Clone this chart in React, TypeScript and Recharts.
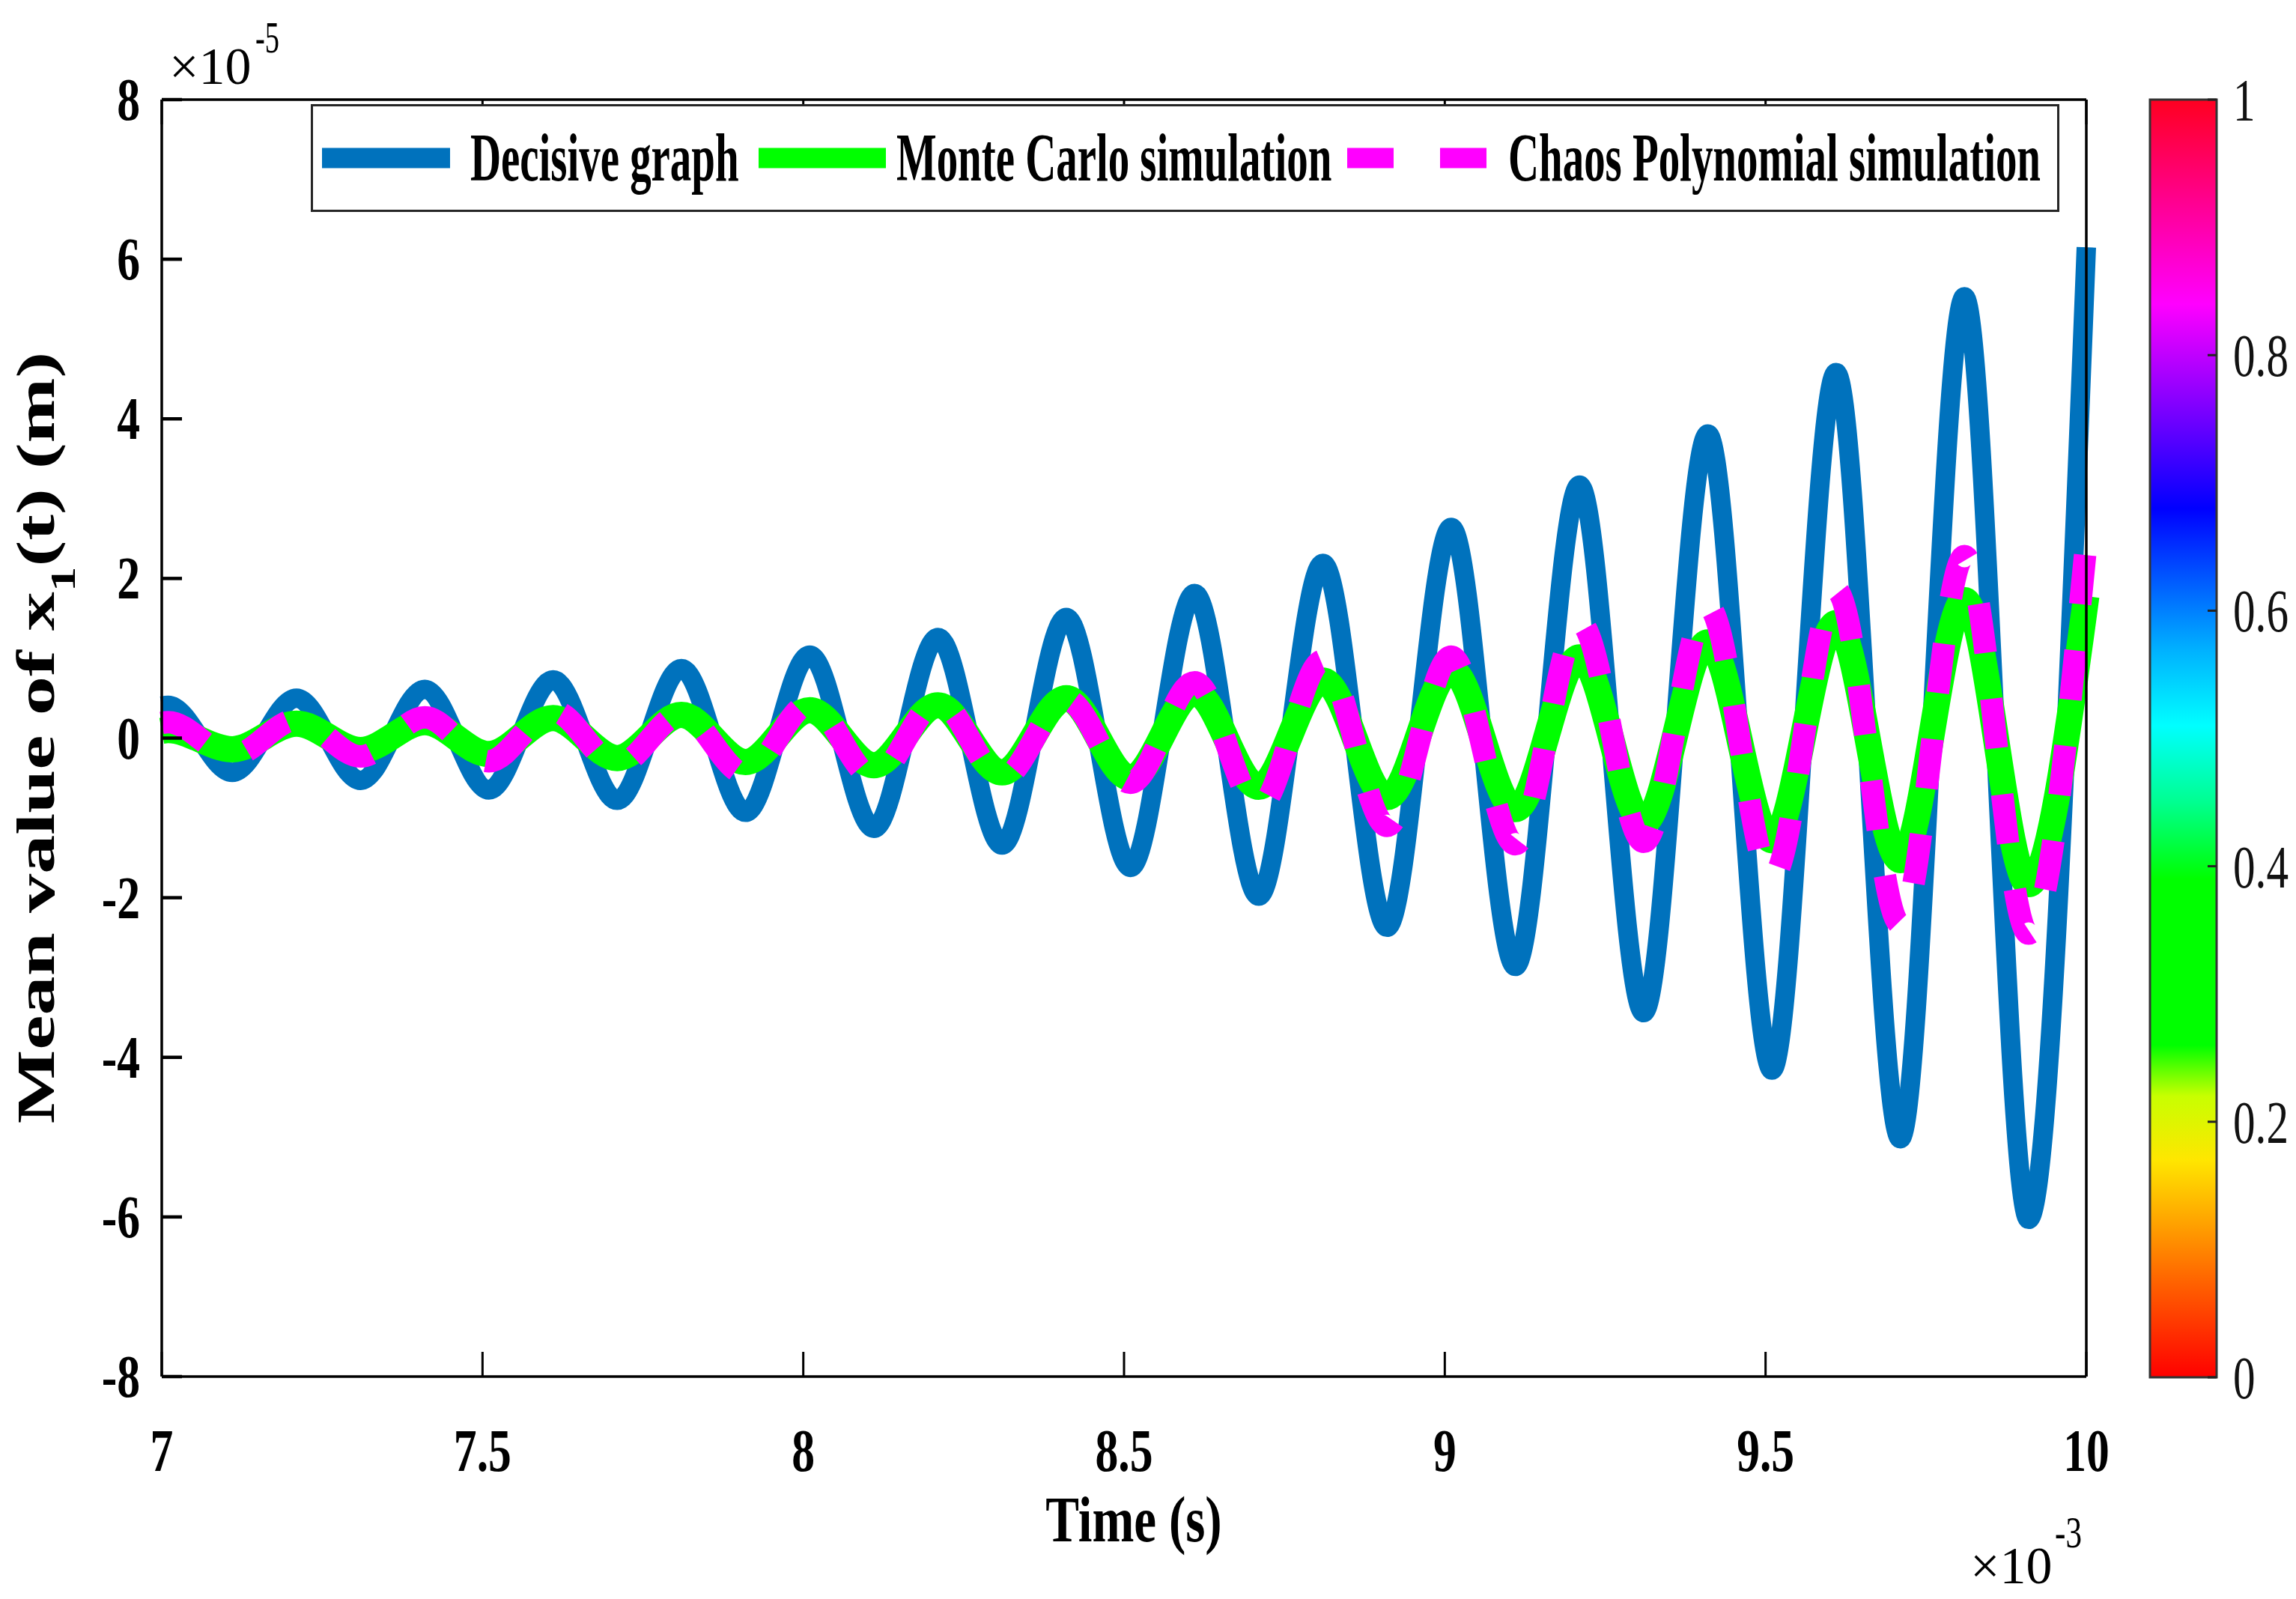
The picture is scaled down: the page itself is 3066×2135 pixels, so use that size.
import React from "react";
import { LineChart, Line, XAxis, YAxis, Legend, BarChart, Bar } from "recharts";

const W = 3066;
const H = 2135;
const PLOT = { left: 216, right: 2786, top: 133, bottom: 1838 };
const FONT = "'Liberation Serif', 'Times New Roman', serif";

// time in units of 1e-3 s, taken at the crests and troughs
const timeMs = [
  7.0, 7.01, 7.11, 7.21, 7.31, 7.41, 7.51, 7.61, 7.71, 7.81, 7.91, 8.01, 8.11,
  8.21, 8.31, 8.41, 8.51, 8.61, 8.71, 8.81, 8.91, 9.01, 9.11, 9.21, 9.31, 9.41,
  9.51, 9.61, 9.71, 9.81, 9.91, 10.0,
];

// mean value of x1(t), units of 1e-5 m
const decisive = [
  0.4, 0.41, -0.43, 0.5, -0.53, 0.61, -0.65, 0.73, -0.78, 0.87, -0.93, 1.04,
  -1.13, 1.26, -1.34, 1.51, -1.62, 1.81, -1.98, 2.19, -2.37, 2.64, -2.86, 3.17,
  -3.44, 3.81, -4.16, 4.58, -5.02, 5.53, -6.03, 6.15,
];
const monteCarlo = [
  0.09, 0.1, -0.14, 0.18, -0.15, 0.2, -0.2, 0.25, -0.25, 0.29, -0.3, 0.35,
  -0.34, 0.41, -0.43, 0.5, -0.5, 0.57, -0.61, 0.72, -0.74, 0.85, -0.89, 1.01,
  -1.06, 1.2, -1.28, 1.44, -1.53, 1.73, -1.83, 1.78,
];
const chaosPoly = [
  0.19, 0.2, -0.22, 0.23, -0.23, 0.26, -0.29, 0.34, -0.34, 0.3, -0.45, 0.43,
  -0.49, 0.46, -0.5, 0.48, -0.56, 0.7, -0.86, 0.97, -1.1, 1.02, -1.33, 1.45,
  -1.3, 1.65, -1.75, 1.85, -2.33, 2.28, -2.45, 2.45,
];

const xTicks = [7, 7.5, 8, 8.5, 9, 9.5, 10];
const yTicks = [-8, -6, -4, -2, 0, 2, 4, 6, 8];
const cbarTicks = [0, 0.2, 0.4, 0.6, 0.8, 1];
const cbarTickLabels = ["0", "0.2", "0.4", "0.6", "0.8", "1"];
const seriesNames = [
  "Decisive graph",
  "Monte Carlo simulation",
  "Chaos Polynomial simulation",
];

const chartData = timeMs.map((t, i) => ({
  t,
  decisive: decisive[i],
  monteCarlo: monteCarlo[i],
  chaos: chaosPoly[i],
}));

const SERIES_STYLE = [
  { key: "decisive", color: "#0072BD", width: 26, dash: undefined },
  { key: "monteCarlo", color: "#00FF00", width: 35, dash: undefined },
  { key: "chaos", color: "#FF00FF", width: 30, dash: "66 62" },
];

// hsv-like colormap of the colorbar (offset 0 = bottom)
const CMAP_STOPS: [number, string][] = [
  [0, "#FF0000"],
  [0.08, "#FF6A00"],
  [0.17, "#FFE600"],
  [0.22, "#C8FF00"],
  [0.26, "#00FF00"],
  [0.39, "#00FF00"],
  [0.45, "#00FF90"],
  [0.51, "#00FFFF"],
  [0.57, "#00B0FF"],
  [0.63, "#0050FF"],
  [0.68, "#0000FF"],
  [0.75, "#7000FF"],
  [0.84, "#FF00FF"],
  [0.92, "#FF0090"],
  [1, "#FF0020"],
];

const LEGEND_BOX = { left: 415, top: 139, width: 2335, height: 144 };
const legendSlots = [
  { x1: 15, x2: 186, textX: 213 },
  { x1: 598, x2: 768, textX: 782 },
  { x1: 1384, x2: 1570, textX: 1599 },
];

const tickText = {
  fontFamily: FONT,
  fontWeight: "bold" as const,
  fontSize: 80,
  fill: "#000",
};

const BottomTick = (props: any) => {
  const { x, payload } = props;
  return (
    <g>
      <line x1={x} x2={x} y1={PLOT.bottom} y2={PLOT.bottom - 33} stroke="#000" strokeWidth={3} />
      <text transform={`translate(${x},1964) scale(0.77,1)`} textAnchor="middle" {...tickText}>
        {String(payload.value)}
      </text>
    </g>
  );
};

const TopTick = (props: any) => {
  const { x } = props;
  return <line x1={x} x2={x} y1={PLOT.top} y2={PLOT.top + 33} stroke="#000" strokeWidth={3} />;
};

const LeftTick = (props: any) => {
  const { y, payload } = props;
  return (
    <g>
      <line x1={PLOT.left} x2={PLOT.left + 27} y1={y} y2={y} stroke="#000" strokeWidth={4.5} />
      <text transform={`translate(187,${y + 27}) scale(0.77,1)`} textAnchor="end" {...tickText}>
        {String(payload.value)}
      </text>
    </g>
  );
};

const RightTick = (props: any) => {
  const { y } = props;
  return <line x1={PLOT.right} x2={PLOT.right - 27} y1={y} y2={y} stroke="#000" strokeWidth={4.5} />;
};

const CbarTick = (props: any) => {
  const { y, payload } = props;
  const idx = cbarTicks.indexOf(payload.value);
  return (
    <g>
      <line x1={160} x2={148} y1={y} y2={y} stroke="#222" strokeWidth={3} />
      <text
        transform={`translate(182,${y + 28}) scale(0.74,1)`}
        textAnchor="start"
        fontFamily={FONT}
        fontSize={80}
        fill="#111"
      >
        {cbarTickLabels[idx]}
      </text>
    </g>
  );
};

const renderLegend = (props: any) => {
  const payload: any[] = (props && props.payload) || [];
  return (
    <svg width={LEGEND_BOX.width} height={LEGEND_BOX.height} style={{ display: "block" }}>
      <rect
        x={1.5}
        y={1.5}
        width={LEGEND_BOX.width - 3}
        height={LEGEND_BOX.height - 3}
        fill="#fff"
        stroke="#262626"
        strokeWidth={3}
      />
      {seriesNames.map((name, i) => {
        const slot = legendSlots[i];
        const st = SERIES_STYLE[i];
        const entry = payload.find((p) => p.value === name);
        const color = entry ? entry.color : st.color;
        return (
          <g key={name}>
            <line
              x1={slot.x1}
              x2={slot.x2}
              y1={72}
              y2={72}
              stroke={color}
              strokeWidth={27}
              strokeDasharray={st.dash ? "62 62" : undefined}
            />
            <text
              transform={`translate(${slot.textX},102) scale(0.625,1)`}
              fontFamily={FONT}
              fontWeight="bold"
              fontSize={91}
              fill="#000"
            >
              {name}
            </text>
          </g>
        );
      })}
    </svg>
  );
};

export default function App() {
  return (
    <div style={{ position: "absolute", left: 0, top: 0, width: W, height: H, background: "#fff" }}>
      <div style={{ position: "absolute", left: 0, top: 0 }}>
        <LineChart
          width={W}
          height={H}
          data={chartData}
          margin={{
            top: PLOT.top - 1,
            right: W - PLOT.right - 1,
            bottom: H - PLOT.bottom - 1,
            left: PLOT.left - 1,
          }}
        >
          <XAxis
            type="number"
            dataKey="t"
            domain={[7, 10]}
            ticks={xTicks}
            height={1}
            axisLine={{ stroke: "#000", strokeWidth: 3.5 }}
            tickLine={false}
            tick={BottomTick}
            interval={0}
          />
          <XAxis
            xAxisId="top"
            orientation="top"
            type="number"
            dataKey="t"
            domain={[7, 10]}
            ticks={xTicks}
            height={1}
            axisLine={{ stroke: "#000", strokeWidth: 3.5 }}
            tickLine={false}
            tick={TopTick}
            interval={0}
          />
          <YAxis
            type="number"
            domain={[-8, 8]}
            ticks={yTicks}
            width={1}
            axisLine={{ stroke: "#000", strokeWidth: 3.5 }}
            tickLine={false}
            tick={LeftTick}
            interval={0}
          />
          <YAxis
            yAxisId="right"
            orientation="right"
            type="number"
            domain={[-8, 8]}
            ticks={yTicks}
            width={1}
            axisLine={{ stroke: "#000", strokeWidth: 3.5 }}
            tickLine={false}
            tick={RightTick}
            interval={0}
          />
          {SERIES_STYLE.map((s, i) => (
            <Line
              key={s.key}
              type="monotone"
              dataKey={s.key}
              name={seriesNames[i]}
              stroke={s.color}
              strokeWidth={s.width}
              strokeDasharray={s.dash}
              strokeLinejoin="round"
              strokeLinecap="butt"
              dot={false}
              activeDot={false}
              isAnimationActive={false}
            />
          ))}
          <Legend
            layout="horizontal"
            verticalAlign="middle"
            align="center"
            content={renderLegend}
            wrapperStyle={{
              position: "absolute",
              left: LEGEND_BOX.left,
              top: LEGEND_BOX.top,
              width: LEGEND_BOX.width,
              height: LEGEND_BOX.height,
            }}
          />
        </LineChart>
      </div>

      <div style={{ position: "absolute", left: 2800, top: 0 }}>
        <BarChart
          width={266}
          height={H}
          data={[{ name: "cmap", level: 1 }]}
          margin={{ top: PLOT.top, bottom: H - 1839, left: 71, right: 105 }}
          barCategoryGap={0}
        >
          <defs>
            <linearGradient id="cmapGrad" x1="0" y1="1" x2="0" y2="0">
              {CMAP_STOPS.map(([o, c]) => (
                <stop key={o} offset={o} stopColor={c} />
              ))}
            </linearGradient>
          </defs>
          <XAxis dataKey="name" hide />
          <YAxis
            orientation="right"
            type="number"
            domain={[0, 1]}
            ticks={cbarTicks}
            width={1}
            axisLine={false}
            tickLine={false}
            tick={CbarTick}
            interval={0}
          />
          <Bar dataKey="level" fill="url(#cmapGrad)" stroke="#333" strokeWidth={3} isAnimationActive={false} />
        </BarChart>
      </div>

      <svg
        width={W}
        height={H}
        style={{ position: "absolute", left: 0, top: 0, pointerEvents: "none" }}
      >
        <text
          transform="translate(72,985) rotate(-90) scale(1.45,1)"
          textAnchor="middle"
          fontFamily={FONT}
          fontWeight="bold"
          fontSize={72}
          fill="#000"
        >
          Mean value of x
          <tspan fontSize={46} dy={28}>1</tspan>
          <tspan dy={-28}>(t) (m)</tspan>
        </text>
        <text
          transform="translate(1514,2058) scale(0.78,1)"
          textAnchor="middle"
          fontFamily={FONT}
          fontWeight="bold"
          fontSize={86}
          fill="#000"
        >
          Time (s)
        </text>
        <text x={226} y={112} fontFamily={FONT} fontSize={70} fill="#000">
          ×10
        </text>
        <text transform="translate(341,70) scale(0.64,1)" fontFamily={FONT} fontSize={60} fill="#000">
          -5
        </text>
        <text x={2631} y={2114} fontFamily={FONT} fontSize={70} fill="#000">
          ×10
        </text>
        <text transform="translate(2744,2066) scale(0.72,1)" fontFamily={FONT} fontSize={60} fill="#000">
          -3
        </text>
      </svg>
    </div>
  );
}
